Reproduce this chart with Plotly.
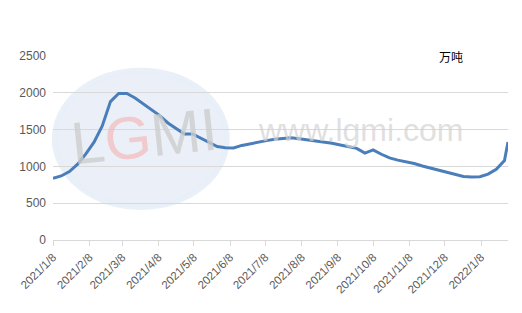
import plotly.graph_objects as go

dates = [
    "2021-01-08", "2021-01-15", "2021-01-22", "2021-01-29", "2021-02-05", "2021-02-12",
    "2021-02-19", "2021-02-26", "2021-03-05", "2021-03-12", "2021-03-19", "2021-03-26",
    "2021-04-02", "2021-04-09", "2021-04-16", "2021-04-23", "2021-04-30", "2021-05-07",
    "2021-05-14", "2021-05-21", "2021-05-28", "2021-06-04", "2021-06-11", "2021-06-18",
    "2021-06-25", "2021-07-02", "2021-07-09", "2021-07-16", "2021-07-23", "2021-07-30",
    "2021-08-06", "2021-08-13", "2021-08-20", "2021-08-27", "2021-09-03", "2021-09-10",
    "2021-09-17", "2021-09-24", "2021-10-01", "2021-10-08", "2021-10-15", "2021-10-22",
    "2021-10-29", "2021-11-05", "2021-11-12", "2021-11-19", "2021-11-26", "2021-12-03",
    "2021-12-10", "2021-12-17", "2021-12-24", "2021-12-31", "2022-01-07", "2022-01-14",
    "2022-01-21", "2022-01-28", "2022-01-31",
]
values = [
    840, 870, 930, 1030, 1170, 1330,
    1550, 1880, 1990, 1990, 1930, 1850,
    1780, 1690, 1590, 1510, 1440, 1440,
    1380, 1320, 1270, 1255, 1250, 1285,
    1310, 1330, 1350, 1370, 1380, 1390,
    1375, 1360, 1355, 1340, 1315, 1290,
    1265, 1245, 1180, 1225, 1165, 1115,
    1085, 1065, 1040, 1005, 975, 955,
    925, 890, 862, 855, 860, 895,
    960, 1080, 1330,
]
tick_dates = [
    "2021-01-08", "2021-02-08", "2021-03-08", "2021-04-08", "2021-05-08", "2021-06-08",
    "2021-07-08", "2021-08-08", "2021-09-08", "2021-10-08", "2021-11-08", "2021-12-08",
    "2022-01-08",
]
tick_labels = [
    "2021/1/8", "2021/2/8", "2021/3/8", "2021/4/8", "2021/5/8", "2021/6/8",
    "2021/7/8", "2021/8/8", "2021/9/8", "2021/10/8", "2021/11/8", "2021/12/8",
    "2022/1/8",
]
unit_label = "万吨"

fig = go.Figure()
fig.add_trace(go.Scatter(
    x=dates, y=values, mode="lines",
    line=dict(color="#4A7EBB", width=3),
    hoverinfo="skip", showlegend=False,
))

# watermark (decorative)
fig.add_shape(type="circle", xref="paper", yref="paper",
              x0=0.004, x1=0.382, y0=0.18, y1=0.92,
              fillcolor="rgba(215,226,242,0.5)",
              line=dict(color="rgba(232,238,247,0.9)", width=6), layer="below")
fig.add_annotation(xref="paper", yref="paper", x=0.2, y=0.56,
                   xanchor="center", yanchor="middle",
                   text="L<span style='color:rgba(242,180,180,0.8)'>G</span>MI",
                   showarrow=False, textangle=-6,
                   font=dict(family="Liberation Sans", size=60,
                             color="rgba(205,205,205,0.8)"))
fig.add_annotation(xref="paper", yref="paper", x=0.675, y=0.6,
                   xanchor="center", yanchor="middle",
                   text="www.lgmi.com", showarrow=False,
                   font=dict(family="Liberation Sans", size=32,
                             color="rgba(210,210,210,0.7)"))

fig.add_annotation(xref="paper", yref="paper", x=0.875, y=1.0,
                   xanchor="center", yanchor="middle",
                   text=unit_label, showarrow=False,
                   font=dict(family="Noto Sans CJK SC", size=12, color="#000000"))

fig.update_layout(
    width=522, height=313,
    margin=dict(l=53, r=14, t=56, b=73),
    paper_bgcolor="white", plot_bgcolor="white",
    xaxis=dict(
        type="date", range=["2021-01-08", "2022-01-31"],
        tickvals=tick_dates, ticktext=tick_labels, tickangle=-45,
        showgrid=False, showline=True, linecolor="#d9d9d9", linewidth=1,
        ticks="outside", ticklen=5, tickcolor="#d9d9d9",
        tickfont=dict(family="Liberation Sans", size=11.5, color="#595959"),
        zeroline=False,
    ),
    yaxis=dict(
        range=[0, 2500], tick0=0, dtick=500,
        showgrid=True, gridcolor="#d9d9d9", gridwidth=1,
        zeroline=False, showline=False, ticks="",
        tickfont=dict(family="Liberation Sans", size=12, color="#595959"),
        ticklabelstandoff=6,
    ),
)

fig.write_html("out.html")
